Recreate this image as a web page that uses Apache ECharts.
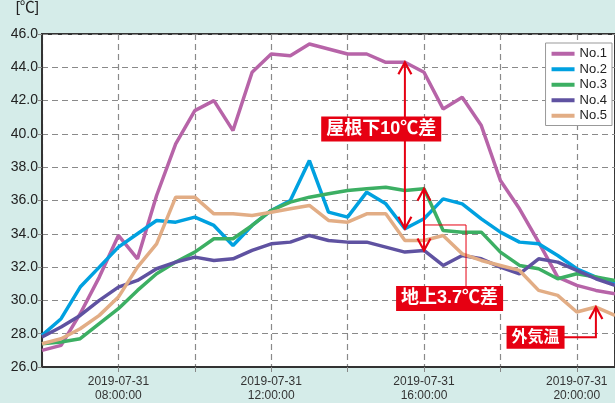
<!DOCTYPE html>
<html>
<head>
<meta charset="utf-8">
<script src="https://cdn.jsdelivr.net/npm/echarts@6/dist/echarts.min.js"></script>
<style>
  html, body { margin: 0; padding: 0; background: #d5ece9; }
  #main { width: 615px; height: 403px; }
</style>
</head>
<body>
<div id="main"></div>
<script>
  // half-hourly readings, 2019-07-31
  var times = ['06:00','06:30','07:00','07:30','08:00','08:30','09:00','09:30','10:00','10:30',
               '11:00','11:30','12:00','12:30','13:00','13:30','14:00','14:30','15:00','15:30',
               '16:00','16:30','17:00','17:30','18:00','18:30','19:00','19:30','20:00','20:30','21:00'];
  var day = '2019-07-31';
  var labelHours = [8, 12, 16, 20];

  var no1 = [27.0,27.3,29.2,31.4,33.9,32.5,36.3,39.4,41.4,42.0,40.2,43.7,44.8,44.7,45.4,45.1,
             44.8,44.8,44.3,44.3,43.7,41.5,42.2,40.5,37.2,35.5,33.5,31.4,30.9,30.6,30.4];
  var no2 = [27.9,28.9,30.8,32.0,33.2,34.0,34.8,34.7,35.0,34.5,33.3,34.5,35.4,36.0,38.4,35.3,
             35.0,36.5,35.8,34.3,34.9,36.1,35.8,34.9,34.1,33.5,33.4,32.7,31.9,31.4,31.0];
  var no3 = [27.4,27.5,27.7,28.6,29.5,30.6,31.6,32.3,32.9,33.7,33.7,34.5,35.4,35.9,36.2,36.4,
             36.6,36.7,36.8,36.6,36.7,34.2,34.1,34.1,32.9,32.1,31.9,31.3,31.6,31.4,31.2];
  var no4 = [27.8,28.4,29.1,30.0,30.8,31.2,31.9,32.3,32.6,32.4,32.5,33.0,33.4,33.5,33.9,33.6,
             33.5,33.5,33.2,32.9,33.0,32.1,32.7,32.5,32.0,31.6,32.5,32.3,31.8,31.3,30.9];
  var no5 = [27.4,27.7,28.3,29.1,30.2,32.0,33.4,36.2,36.2,35.2,35.2,35.1,35.3,35.5,35.7,34.8,
             34.7,35.2,35.2,33.6,33.6,33.9,32.8,32.4,32.1,31.8,30.6,30.3,29.3,29.6,29.1];

  var names = ['No.1', 'No.2', 'No.3', 'No.4', 'No.5'];
  var colors = ['#b764a8', '#00a1e0', '#3caf63', '#5f52a1', '#e2ad85'];

  function toHour(t) {
    var p = t.split(':');
    return +p[0] + (+p[1]) / 60;
  }
  function pad(n) { return (n < 10 ? '0' : '') + n; }

  var hours = times.map(toHour);
  function pairs(vals) {
    return vals.map(function (v, i) { return [hours[i], v]; });
  }

  var chart = echarts.init(document.getElementById('main'));
  var red = '#e60012';
  var labelFont = "'Liberation Sans', 'Noto Sans CJK JP', sans-serif";

  var option = {
    backgroundColor: '#d5ece9',
    animation: false,
    color: colors,
    grid: {
      left: 42, right: -4, top: 30, bottom: 36,
      show: true, backgroundColor: '#fff',
      borderColor: '#333', borderWidth: 2
    },
    legend: {
      data: names,
      orient: 'vertical',
      right: 3, top: 43,
      icon: 'rect',
      itemWidth: 23, itemHeight: 4, itemGap: 2,
      padding: [4, 5, 3, 6],
      backgroundColor: '#fff',
      borderColor: '#999', borderWidth: 1,
      textStyle: { fontSize: 13, lineHeight: 13.5, color: '#222', fontFamily: 'Liberation Sans' }
    },
    xAxis: {
      type: 'value',
      min: 6, max: 21, interval: 2,
      axisLine: { lineStyle: { color: '#333', width: 2 } },
      axisTick: { show: true, length: 6, lineStyle: { color: '#888', type: [5, 4] } },
      axisLabel: {
        margin: 8,
        fontSize: 12, lineHeight: 14, color: '#333', fontFamily: 'Liberation Sans',
        showMinLabel: false, showMaxLabel: false,
        formatter: function (h) {
          if (labelHours.indexOf(h) < 0) return '';
          return day + '\n' + pad(h) + ':00:00';
        }
      },
      splitLine: { show: true, lineStyle: { color: '#8a8a8a', width: 1.2, type: [6, 4] } }
    },
    yAxis: {
      type: 'value',
      min: 26, max: 46, interval: 2,
      name: '[℃]',
      nameLocation: 'end',
      nameGap: 19,
      nameTextStyle: { fontSize: 15, color: '#222', align: 'right', padding: [0, 3, 0, 0],
                       fontFamily: 'Liberation Sans, Noto Sans CJK JP' },
      axisLine: { show: true, lineStyle: { color: '#333', width: 2 } },
      axisTick: { show: true, length: 4, lineStyle: { color: '#888' } },
      axisLabel: {
        margin: 4, fontSize: 14, color: '#222', fontFamily: 'Liberation Sans',
        formatter: function (v) { return v.toFixed(1); }
      },
      splitLine: { show: true, lineStyle: { color: '#8a8a8a', width: 1.2, type: [6, 4] } }
    },
    series: [no1, no2, no3, no4, no5].map(function (vals, k) {
      return {
        name: names[k],
        type: 'line',
        data: pairs(vals),
        showSymbol: false,
        symbol: 'none',
        lineStyle: { width: 3.5, color: colors[k] },
        itemStyle: { color: colors[k] }
      };
    })
  };

  chart.setOption(option);

  // annotations placed from data values
  function px(h, v) { return chart.convertToPixel({ gridIndex: 0 }, [h, v]); }
  function head(p, up) {
    var d = up ? 12 : -12;
    return {
      type: 'polyline', z: 100, silent: true,
      shape: { points: [[p[0] - 6.5, p[1] + d], [p[0], p[1]], [p[0] + 6.5, p[1] + d]] },
      style: { stroke: red, lineWidth: 2.2, fill: null }
    };
  }
  function seg(points, w) {
    return {
      type: 'polyline', z: 100, silent: true,
      shape: { points: points },
      style: { stroke: red, lineWidth: w, fill: null }
    };
  }
  function tag(p, text, size) {
    return {
      type: 'text', z: 110, silent: true,
      x: p[0], y: p[1],
      style: {
        text: text, fill: '#fff', font: 'bold ' + size + 'px ' + labelFont,
        align: 'center', verticalAlign: 'middle',
        backgroundColor: red, padding: [4, 5, 3, 5]
      }
    };
  }

  var i1 = times.indexOf('15:30');
  var i2 = times.indexOf('16:00');
  var i3 = times.indexOf('20:30');
  var a1t = px(hours[i1], no1[i1]), a1b = px(hours[i1], no2[i1]);
  var a2t = px(hours[i2], no3[i2]), a2b = px(hours[i2], no4[i2]);
  var tip3 = px(hours[i3], no5[i3]);

  var lab1 = px(14.88, 40.3);
  var lab2 = px(16.67, 30.12);
  var lab3 = px(18.92, 27.78);
  var knee = px(17.1, 34.53);
  var lab2Top = px(17.1, 30.85);
  var out = px(hours[i3], 27.78);

  chart.setOption({
    graphic: [
      seg([a1t, a1b], 2), head(a1t, true), head(a1b, false),
      seg([a2t, a2b], 2), head(a2t, true), head(a2b, false),
      seg([[a2t[0], knee[1]], knee, [knee[0], lab2Top[1]]], 1),
      seg([[lab3[0], out[1]], out, tip3], 2), head(tip3, true),
      tag(lab1, '屋根下10℃差', 18),
      tag(lab2, '地上3.7℃差', 18),
      tag(lab3, '外気温', 16)
    ]
  });
</script>
</body>
</html>
